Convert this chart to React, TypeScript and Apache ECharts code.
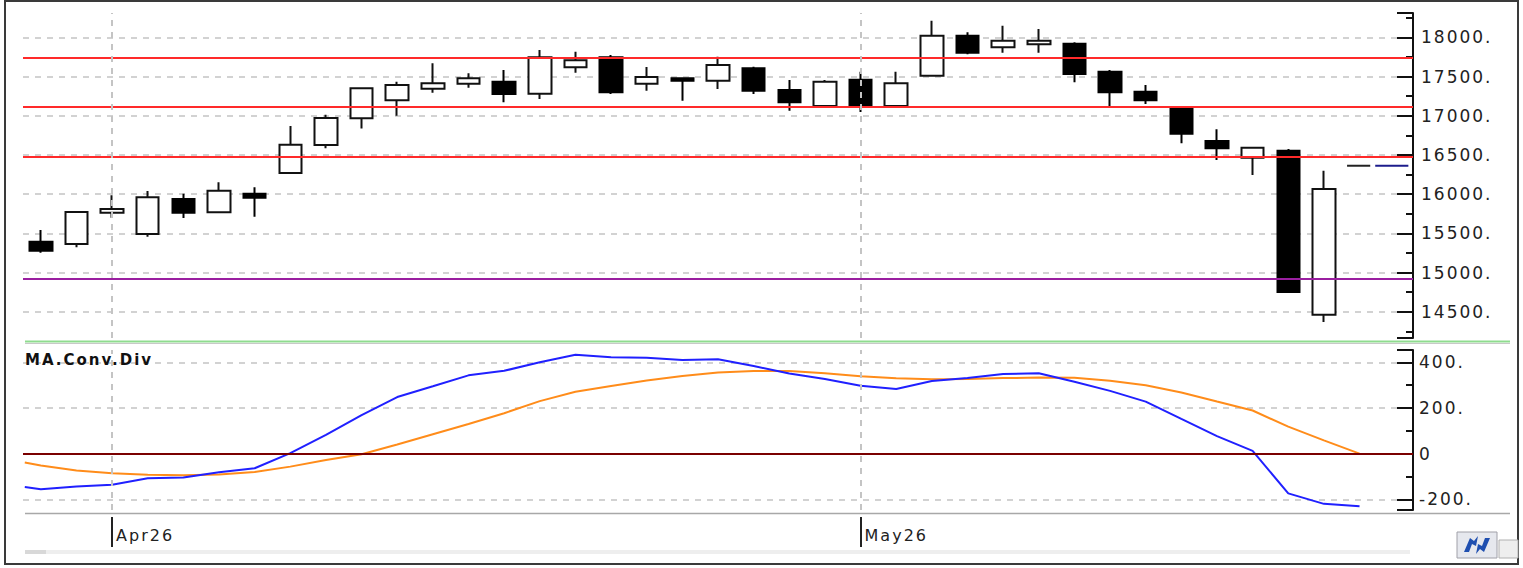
import React, { useEffect, useRef } from 'react';
import * as echarts from 'echarts';

// ---- categories (trading days) ----
const dates = [
  '2026-03-30', '2026-03-31', '2026-04-01', '2026-04-02', '2026-04-06', '2026-04-07', '2026-04-08',
  '2026-04-09', '2026-04-10', '2026-04-13', '2026-04-14', '2026-04-15', '2026-04-16', '2026-04-17',
  '2026-04-20', '2026-04-21', '2026-04-22', '2026-04-23', '2026-04-24', '2026-04-27', '2026-04-28',
  '2026-04-29', '2026-04-30', '2026-05-01', '2026-05-04', '2026-05-05', '2026-05-06', '2026-05-07',
  '2026-05-08', '2026-05-11', '2026-05-12', '2026-05-13', '2026-05-14', '2026-05-15', '2026-05-18',
  '2026-05-19', '2026-05-20', '2026-05-21', '2026-05-22',
];

// ---- candles: [open, close, low, high] ----
const candles = [
  [15393, 15278, 15253, 15542],
  [15364, 15772, 15321, 15775],
  [15763, 15810, 15699, 15985],
  [15491, 15959, 15457, 16040],
  [15938, 15763, 15695, 16005],
  [15768, 16043, 15765, 16150],
  [16005, 15954, 15712, 16087],
  [16269, 16630, 16265, 16869],
  [16626, 16971, 16584, 17013],
  [16967, 17350, 16837, 17355],
  [17196, 17392, 17000, 17434],
  [17344, 17413, 17293, 17668],
  [17408, 17477, 17357, 17541],
  [17434, 17277, 17171, 17583],
  [17281, 17745, 17213, 17838],
  [17617, 17707, 17548, 17816],
  [17745, 17298, 17277, 17774],
  [17408, 17494, 17319, 17621],
  [17477, 17446, 17191, 17480],
  [17446, 17647, 17341, 17753],
  [17605, 17319, 17277, 17625],
  [17328, 17171, 17064, 17455],
  [17124, 17434, 17115, 17455],
  [17459, 17115, 17047, 17561],
  [17124, 17413, 17120, 17561],
  [17510, 18020, 17505, 18212],
  [18020, 17804, 17783, 18064],
  [17872, 17957, 17804, 18148],
  [17911, 17957, 17804, 18106],
  [17918, 17532, 17426, 17936],
  [17561, 17298, 17115, 17583],
  [17306, 17196, 17149, 17392],
  [17107, 16770, 16648, 17110],
  [16677, 16584, 16435, 16827],
  [16464, 16592, 16244, 16595],
  [16554, 14751, 14751, 16575],
  [14462, 16065, 14369, 16298],
];

// ---- projected level markers (category index, price) ----
const projection = [
  [37, 16362],
  [38, 16362],
];

// ---- horizontal levels ----
const resistanceLevels = [17745, 17115, 16480];
const supportLevel = 14925;

// ---- MACD ----
const macdLeadIn = [-0.45, -146];
const signalLeadIn = [-0.45, -39];
const macdLine = [
  -156, -144, -136, -108, -105, -82, -64, 2, 82, 169, 248, 295, 343, 363, 400, 433, 422, 420, 410,
  413, 384, 351, 327, 297, 283, 318, 331, 349, 352, 315, 275, 228, 152, 77, 12, -174, -220, -231,
];
const signalLine = [
  -52, -74, -86, -93, -95, -91, -81, -57, -28, -3, 40, 85, 130, 177, 230, 271, 296, 320, 340,
  355, 362, 362, 352, 339, 330, 326, 327, 331, 333, 332, 319, 300, 268, 228, 189, 118, 58, 0,
];

// ---- month ticks ----
const monthStarts = ['2026-04-01', '2026-05-01'];
const monthLabels = ['Apr26', 'May26'];

const FONT = 'DejaVu Sans, Verdana, sans-serif';
const GRID_DASH = { color: '#c4c4c4', type: [6, 6] as any, width: 1.5 };

export default function App() {
  const ref = useRef<HTMLDivElement>(null);

  useEffect(() => {
    if (!ref.current) return;
    const chart = echarts.init(ref.current, null, { renderer: 'svg' });

    const monthIdx = monthStarts.map((d) => dates.indexOf(d));
    const macdData = [macdLeadIn, ...macdLine.map((v, i) => [i, v])];
    const signalData = [signalLeadIn, ...signalLine.map((v, i) => [i, v])];

    const valueLabel = (v: number) => (v === 0 ? '0' : `${v}.`);
    const noZero = { onZero: false };

    const option: any = {
      animation: false,
      backgroundColor: '#ffffff',
      title: {
        text: 'MA.Conv.Div',
        left: 25,
        top: 352,
        padding: 0,
        textStyle: { fontFamily: FONT, fontSize: 15, fontWeight: 'bold', color: '#111' },
      },
      grid: [
        { left: 23, top: 13, width: 1390, height: 325 },
        { left: 23, top: 350, width: 1390, height: 160 },
      ],
      xAxis: [
        {
          type: 'category',
          gridIndex: 0,
          data: dates,
          boundaryGap: true,
          axisLine: { show: false, ...noZero },
          axisTick: { show: false },
          axisLabel: { show: false },
          splitLine: { show: false },
        },
        {
          type: 'value',
          gridIndex: 1,
          min: -0.5,
          max: dates.length - 0.5,
          axisLine: { show: false, ...noZero },
          axisTick: { show: false },
          axisLabel: { show: false },
          splitLine: { show: false },
        },
        {
          type: 'category',
          gridIndex: 1,
          data: dates,
          position: 'bottom',
          offset: 7,
          boundaryGap: true,
          axisLine: { show: false, ...noZero },
          axisTick: {
            show: true,
            alignWithLabel: true,
            length: 30,
            interval: (i: number, v: string) => monthStarts.includes(v),
            lineStyle: { color: '#222', width: 2 },
          },
          axisLabel: {
            show: true,
            interval: (i: number, v: string) => monthStarts.includes(v),
            formatter: (v: string) => monthLabels[monthStarts.indexOf(v)] ?? '',
            align: 'left',
            padding: [0, 0, 0, 4],
            margin: 10,
            fontFamily: FONT,
            fontSize: 16,
            color: '#222',
          },
          splitLine: { show: false },
        },
      ],
      yAxis: [
        {
          type: 'value',
          gridIndex: 0,
          position: 'right',
          min: 14165,
          max: 18310,
          splitNumber: 8,
          axisLine: { show: true, ...noZero, lineStyle: { color: '#111', width: 2 } },
          axisTick: { show: true, inside: true, length: 16, lineStyle: { color: '#111', width: 2 } },
          minorTick: { show: true, splitNumber: 2, length: 7, lineStyle: { color: '#111', width: 2 } },
          axisLabel: {
            show: true,
            showMinLabel: false,
            showMaxLabel: false,
            formatter: valueLabel,
            margin: 8,
            fontFamily: FONT,
            fontSize: 17,
            color: '#222',
          },
          splitLine: { show: true, showMinLine: false, showMaxLine: false, lineStyle: GRID_DASH },
        },
        {
          type: 'value',
          gridIndex: 1,
          position: 'right',
          min: -247,
          max: 454,
          splitNumber: 4,
          axisLine: { show: true, ...noZero, lineStyle: { color: '#111', width: 2 } },
          axisTick: { show: true, inside: true, length: 16, lineStyle: { color: '#111', width: 2 } },
          minorTick: { show: true, splitNumber: 2, length: 7, lineStyle: { color: '#111', width: 2 } },
          axisLabel: {
            show: true,
            showMinLabel: false,
            showMaxLabel: false,
            formatter: valueLabel,
            margin: 6,
            fontFamily: FONT,
            fontSize: 17,
            color: '#222',
          },
          splitLine: { show: true, showMinLine: false, showMaxLine: false, lineStyle: GRID_DASH },
        },
      ],
      series: [
        {
          // reference levels and month separators (behind candles)
          type: 'line',
          xAxisIndex: 0,
          yAxisIndex: 0,
          data: [],
          z: 1,
          silent: true,
          markLine: {
            silent: true,
            symbol: 'none',
            label: { show: false },
            data: [
              ...resistanceLevels.map((v) => ({ yAxis: v, lineStyle: { color: '#ff2a2a', width: 2, type: 'solid' } })),
              { yAxis: supportLevel, lineStyle: { color: '#9a1fa0', width: 2, type: 'solid' } },
              ...monthStarts.map((d) => ({ xAxis: d, lineStyle: { color: '#c4c4c4', width: 2, type: [6, 6] } })),
            ],
          },
        },
        {
          type: 'candlestick',
          xAxisIndex: 0,
          yAxisIndex: 0,
          data: candles,
          barWidth: 23,
          z: 3,
          itemStyle: {
            color: '#ffffff',
            color0: '#000000',
            borderColor: '#111111',
            borderColor0: '#000000',
            borderWidth: 2,
          },
        },
        {
          type: 'custom',
          xAxisIndex: 0,
          yAxisIndex: 0,
          data: projection,
          z: 4,
          renderItem: (params: any, api: any) => {
            const pt = api.coord([api.value(0), api.value(1)]);
            const bw = api.size([1, 0])[0];
            const first = params.dataIndex === 0;
            const left = first ? 0.35 : 0.56;
            const right = first ? 0.3 : 0.37;
            return {
              type: 'line',
              shape: { x1: pt[0] - bw * left, y1: pt[1], x2: pt[0] + bw * right, y2: pt[1] },
              style: { stroke: first ? '#222' : '#1c1c8c', lineWidth: 2 },
            };
          },
        },
        {
          type: 'line',
          xAxisIndex: 1,
          yAxisIndex: 1,
          data: [],
          z: 1,
          silent: true,
          markLine: {
            silent: true,
            symbol: 'none',
            label: { show: false },
            data: [
              { yAxis: 0, lineStyle: { color: '#7a0000', width: 2, type: 'solid' } },
              ...monthIdx.map((i) => ({ xAxis: i, lineStyle: { color: '#c4c4c4', width: 2, type: [6, 6] } })),
            ],
          },
        },
        {
          name: 'Signal',
          type: 'line',
          xAxisIndex: 1,
          yAxisIndex: 1,
          data: signalData,
          showSymbol: false,
          symbol: 'none',
          z: 3,
          lineStyle: { color: '#ff8c1a', width: 2 },
        },
        {
          name: 'MACD',
          type: 'line',
          xAxisIndex: 1,
          yAxisIndex: 1,
          data: macdData,
          showSymbol: false,
          symbol: 'none',
          z: 4,
          lineStyle: { color: '#2020ff', width: 2 },
        },
      ],
      graphic: [
        { type: 'rect', shape: { x: 5, y: 1, width: 1513, height: 563 }, style: { fill: 'none', stroke: '#3a3a3a', lineWidth: 2 }, silent: true },
        { type: 'line', shape: { x1: 25, y1: 341.5, x2: 1510, y2: 341.5 }, style: { stroke: '#8fdc8f', lineWidth: 2 }, silent: true },
        { type: 'line', shape: { x1: 25, y1: 343.5, x2: 1510, y2: 343.5 }, style: { stroke: '#c8c8c8', lineWidth: 1 }, silent: true },
        { type: 'line', shape: { x1: 25, y1: 513.5, x2: 1510, y2: 513.5 }, style: { stroke: '#a8a8a8', lineWidth: 1.5 }, silent: true },
        { type: 'rect', shape: { x: 25, y: 550, width: 1385, height: 4 }, style: { fill: '#eeeeee' }, silent: true },
        { type: 'rect', shape: { x: 25, y: 550, width: 21, height: 4 }, style: { fill: '#d8d8d8' }, silent: true },
        { type: 'rect', shape: { x: 1457, y: 532, width: 40, height: 26 }, style: { fill: '#e6e8ee', stroke: '#a0a0a8', lineWidth: 1 }, silent: true },
        { type: 'rect', shape: { x: 1499, y: 540, width: 19, height: 18 }, style: { fill: '#eeeeee', stroke: '#b0b0b0', lineWidth: 1 }, silent: true },
        { type: 'polygon', shape: { points: [[1464, 552], [1470, 538], [1474, 541], [1478, 536], [1476, 546], [1472, 544], [1469, 552]] }, style: { fill: '#1f4fb0' }, silent: true },
        { type: 'polygon', shape: { points: [[1490, 538], [1484, 552], [1480, 549], [1476, 554], [1478, 544], [1482, 546], [1485, 538]] }, style: { fill: '#1f4fb0' }, silent: true },
      ],
    };

    chart.setOption(option);
    return () => chart.dispose();
  }, []);

  return (
    <>
      <style>{'.macd-chart svg text { letter-spacing: 2px; }'}</style>
      <div
        ref={ref}
        className="macd-chart"
        style={{ position: 'fixed', left: 0, top: 0, width: 1523, height: 568, background: '#fff' }}
      />
    </>
  );
}
